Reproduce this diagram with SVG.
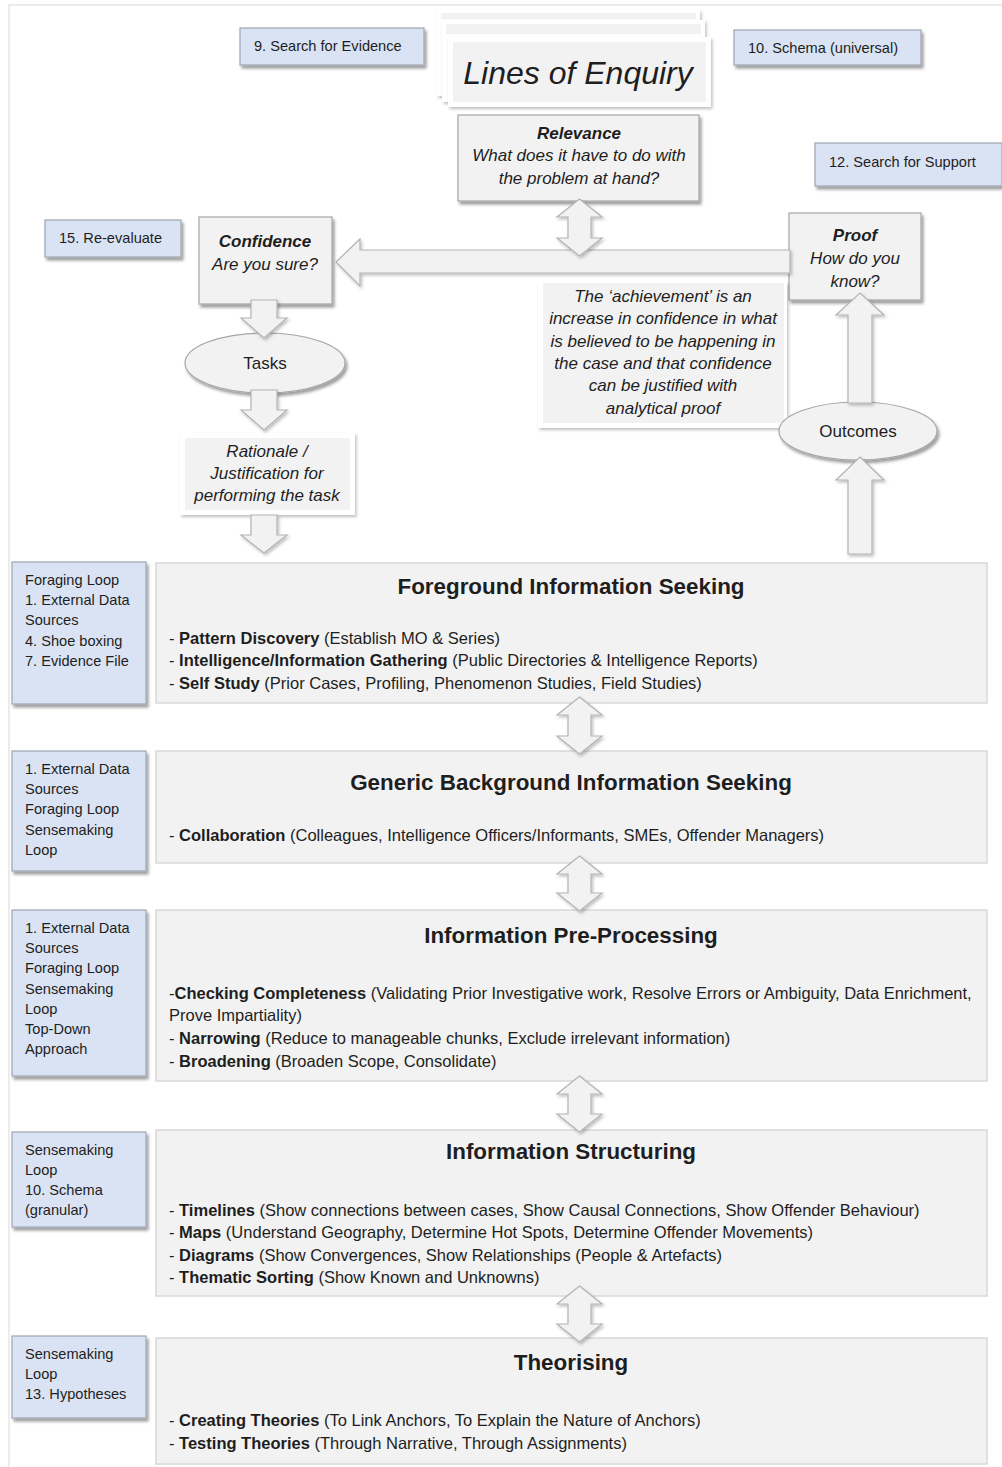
<svg xmlns="http://www.w3.org/2000/svg" width="1002" height="1467" viewBox="0 0 1002 1467">
  <defs>
    <filter id="shadow" x="-10%" y="-10%" width="125%" height="140%">
      <feDropShadow dx="2" dy="3" stdDeviation="1.8" flood-color="#000" flood-opacity="0.38"/>
    </filter>
    <filter id="softShadow" x="-10%" y="-10%" width="130%" height="130%">
      <feDropShadow dx="1.5" dy="2" stdDeviation="1.5" flood-color="#000" flood-opacity="0.25"/>
    </filter>
  </defs>
  <style>
    text { font-family: "Liberation Sans", Arial, sans-serif; fill: #1e1e1e; }
    .tag { fill: #dae3f3; stroke: #9ea6b2; stroke-width: 1.2; filter: url(#shadow); }
    .tagText { font-size: 14.6px; }
    .card { fill: #f2f2f2; stroke: #a6a6a6; stroke-width: 1.2; filter: url(#shadow); }
    .sheet { fill: #ffffff; filter: url(#softShadow); }
    .sheetInner { fill: #f2f2f2; }
    .section { fill: #f2f2f2; stroke: #d9d9d9; stroke-width: 1.5; }
    .title { font-size: 22.4px; font-weight: bold; text-anchor: middle; }
    .item { font-size: 16.5px; }
    .b { font-weight: bold; }
    .q { font-size: 17px; font-style: italic; text-anchor: middle; }
    .qb { font-weight: bold; }
    .oval { fill: #f2f2f2; stroke: #a6a6a6; stroke-width: 1.2; filter: url(#shadow); }
    .ovalText { font-size: 17px; text-anchor: middle; }
    .arrow { fill: #f2f2f2; stroke: #b3b3b3; stroke-width: 1.2; filter: url(#softShadow); }
  </style>

  <!-- page frame -->
  <rect x="9" y="5" width="1000" height="1470" fill="#ffffff" stroke="#ececec" stroke-width="2"/>

  <!-- tag boxes -->
  <g id="tag-search-evidence">
    <rect class="tag" x="240" y="28" width="184" height="37"/>
    <text class="tagText" x="254" y="51">9. Search for Evidence</text>
  </g>
  <g id="tag-schema-universal">
    <rect class="tag" x="734" y="30" width="187" height="35"/>
    <text class="tagText" x="748" y="53">10. Schema (universal)</text>
  </g>
  <g id="tag-search-support">
    <rect class="tag" x="815" y="143" width="187" height="43"/>
    <text class="tagText" x="829" y="167">12. Search for Support</text>
  </g>
  <g id="tag-reevaluate">
    <rect class="tag" x="45" y="220" width="136" height="37"/>
    <text class="tagText" x="59" y="243">15. Re-evaluate</text>
  </g>

  <!-- stacked sheets heading -->
  <g id="lines-of-enquiry">
    <rect class="sheet" x="437" y="10" width="263" height="86"/>
    <rect class="sheetInner" x="441" y="13" width="255" height="6"/>
    <rect class="sheet" x="442" y="20" width="263" height="82"/>
    <rect class="sheetInner" x="446" y="24" width="255" height="10"/>
    <rect class="sheet" x="448" y="37" width="263" height="70"/>
    <rect class="sheetInner" x="453" y="42" width="253" height="60"/>
    <text x="578" y="84" font-size="32" font-style="italic" text-anchor="middle">Lines of Enquiry</text>
  </g>

  <g id="relevance">
    <rect class="card" x="458" y="115" width="241" height="86"/>
    <text class="q" x="579" y="139"><tspan class="qb">Relevance</tspan></text>
    <text class="q" x="579" y="161">What does it have to do with</text>
    <text class="q" x="579" y="184">the problem at hand?</text>
  </g>

  <g id="confidence">
    <rect class="card" x="199" y="217" width="133" height="87"/>
    <text class="q" x="265" y="247"><tspan class="qb">Confidence</tspan></text>
    <text class="q" x="265" y="270">Are you sure?</text>
  </g>

  <g id="proof">
    <rect class="card" x="789" y="213" width="132" height="87"/>
    <text class="q" x="855" y="241"><tspan class="qb">Proof</tspan></text>
    <text class="q" x="855" y="264">How do you</text>
    <text class="q" x="855" y="287">know?</text>
  </g>

  <g id="achievement-note">
    <rect class="sheet" x="538" y="282" width="249" height="146"/>
    <rect class="sheetInner" x="543" y="283" width="241" height="140"/>
    <text class="q" x="663" y="302">The ‘achievement’ is an</text>
    <text class="q" x="663" y="324">increase in confidence in what</text>
    <text class="q" x="663" y="347">is believed to be happening in</text>
    <text class="q" x="663" y="369">the case and that confidence</text>
    <text class="q" x="663" y="391">can be justified with</text>
    <text class="q" x="663" y="414">analytical proof</text>
  </g>

  <g id="tasks">
    <ellipse class="oval" cx="265" cy="363" rx="80" ry="30"/>
    <text class="ovalText" x="265" y="369">Tasks</text>
  </g>

  <g id="outcomes">
    <ellipse class="oval" cx="858" cy="431" rx="79" ry="29"/>
    <text class="ovalText" x="858" y="437">Outcomes</text>
  </g>

  <g id="rationale">
    <rect class="sheet" x="180" y="433" width="175" height="82"/>
    <rect class="sheetInner" x="185" y="438" width="165" height="72"/>
    <text class="q" x="267" y="457">Rationale /</text>
    <text class="q" x="267" y="479">Justification for</text>
    <text class="q" x="267" y="501">performing the task</text>
  </g>

  <!-- process stages -->
  <g id="foreground">
    <rect class="section" x="156" y="563" width="831" height="140"/>
    <text class="title" x="571" y="594">Foreground Information Seeking</text>
    <text class="item" x="169" y="644">- <tspan class="b">Pattern Discovery</tspan> (Establish MO &amp; Series)</text>
    <text class="item" x="169" y="666">- <tspan class="b">Intelligence/Information Gathering</tspan> (Public Directories &amp; Intelligence Reports)</text>
    <text class="item" x="169" y="689">- <tspan class="b">Self Study</tspan> (Prior Cases, Profiling, Phenomenon Studies, Field Studies)</text>
  </g>
  <g id="foreground-tag">
    <rect class="tag" x="12" y="562" width="134" height="142"/>
    <text class="tagText" x="25" y="585">Foraging Loop</text>
    <text class="tagText" x="25" y="605">1. External Data</text>
    <text class="tagText" x="25" y="625">Sources</text>
    <text class="tagText" x="25" y="646">4. Shoe boxing</text>
    <text class="tagText" x="25" y="666">7. Evidence File</text>
  </g>

  <g id="background">
    <rect class="section" x="156" y="751" width="831" height="112"/>
    <text class="title" x="571" y="790">Generic Background Information Seeking</text>
    <text class="item" x="169" y="841">- <tspan class="b">Collaboration</tspan> (Colleagues, Intelligence Officers/Informants, SMEs, Offender Managers)</text>
  </g>
  <g id="background-tag">
    <rect class="tag" x="12" y="751" width="134" height="120"/>
    <text class="tagText" x="25" y="774">1. External Data</text>
    <text class="tagText" x="25" y="794">Sources</text>
    <text class="tagText" x="25" y="814">Foraging Loop</text>
    <text class="tagText" x="25" y="835">Sensemaking</text>
    <text class="tagText" x="25" y="855">Loop</text>
  </g>

  <g id="preprocessing">
    <rect class="section" x="156" y="910" width="831" height="171"/>
    <text class="title" x="571" y="943">Information Pre-Processing</text>
    <text class="item" x="169" y="999">-<tspan class="b">Checking Completeness</tspan> (Validating Prior Investigative work, Resolve Errors or Ambiguity, Data Enrichment,</text>
    <text class="item" x="169" y="1021">Prove Impartiality)</text>
    <text class="item" x="169" y="1044">- <tspan class="b">Narrowing</tspan> (Reduce to manageable chunks, Exclude irrelevant information)</text>
    <text class="item" x="169" y="1067">- <tspan class="b">Broadening</tspan> (Broaden Scope, Consolidate)</text>
  </g>
  <g id="preprocessing-tag">
    <rect class="tag" x="12" y="910" width="134" height="166"/>
    <text class="tagText" x="25" y="933">1. External Data</text>
    <text class="tagText" x="25" y="953">Sources</text>
    <text class="tagText" x="25" y="973">Foraging Loop</text>
    <text class="tagText" x="25" y="994">Sensemaking</text>
    <text class="tagText" x="25" y="1014">Loop</text>
    <text class="tagText" x="25" y="1034">Top-Down</text>
    <text class="tagText" x="25" y="1054">Approach</text>
  </g>

  <g id="structuring">
    <rect class="section" x="156" y="1130" width="831" height="166"/>
    <text class="title" x="571" y="1159">Information Structuring</text>
    <text class="item" x="169" y="1216">- <tspan class="b">Timelines</tspan> (Show connections between cases, Show Causal Connections, Show Offender Behaviour)</text>
    <text class="item" x="169" y="1238">- <tspan class="b">Maps</tspan> (Understand Geography, Determine Hot Spots, Determine Offender Movements)</text>
    <text class="item" x="169" y="1261">- <tspan class="b">Diagrams</tspan>  (Show Convergences, Show Relationships (People &amp; Artefacts)</text>
    <text class="item" x="169" y="1283">- <tspan class="b">Thematic Sorting</tspan> (Show Known and Unknowns)</text>
  </g>
  <g id="structuring-tag">
    <rect class="tag" x="12" y="1132" width="134" height="95"/>
    <text class="tagText" x="25" y="1155">Sensemaking</text>
    <text class="tagText" x="25" y="1175">Loop</text>
    <text class="tagText" x="25" y="1195">10. Schema</text>
    <text class="tagText" x="25" y="1215">(granular)</text>
  </g>

  <g id="theorising">
    <rect class="section" x="156" y="1338" width="831" height="126"/>
    <text class="title" x="571" y="1370">Theorising</text>
    <text class="item" x="169" y="1426">- <tspan class="b">Creating Theories</tspan> (To Link Anchors, To Explain the Nature of Anchors)</text>
    <text class="item" x="169" y="1449">- <tspan class="b">Testing Theories</tspan> (Through Narrative, Through Assignments)</text>
  </g>
  <g id="theorising-tag">
    <rect class="tag" x="12" y="1336" width="134" height="82"/>
    <text class="tagText" x="25" y="1359">Sensemaking</text>
    <text class="tagText" x="25" y="1379">Loop</text>
    <text class="tagText" x="25" y="1399">13. Hypotheses</text>
  </g>

  <!-- block arrows -->
  <g id="connectors">
    <!-- Confidence -> Tasks -> Rationale -> Foreground -->
    <polygon class="arrow" points="251,300 277,300 277,318 287,318 264,338 241,318 251,318"/>
    <polygon class="arrow" points="251,390 277,390 277,410 287,410 264,430 241,410 251,410"/>
    <polygon class="arrow" points="251,515 277,515 277,535 287,535 264,553 241,535 251,535"/>
    <!-- Foreground -> Outcomes -> Proof -->
    <polygon class="arrow" points="848,554 872,554 872,480 884,480 860,457 836,480 848,480"/>
    <polygon class="arrow" points="848,403 872,403 872,315 884,315 860,293 836,315 848,315"/>
    <!-- Proof -> Confidence -->
    <polygon class="arrow" points="790,250 790,273 360,273 360,286 336,262 360,239 360,250"/>
    <!-- Relevance <-> main loop -->
    <path class="arrow" d="M579.5,199 L602,217 L591,217 L591,238 L602,238 L579.5,256 L557,238 L568,238 L568,217 L557,217 Z"/>
    <!-- between stages -->
    <path class="arrow" d="M579.5,697 L602,715 L591,715 L591,736 L602,736 L579.5,754 L557,736 L568,736 L568,715 L557,715 Z"/>
    <path class="arrow" d="M579.5,856 L602,874 L591,874 L591,893 L602,893 L579.5,911 L557,893 L568,893 L568,874 L557,874 Z"/>
    <path class="arrow" d="M579.5,1076 L602,1094 L591,1094 L591,1114 L602,1114 L579.5,1132 L557,1114 L568,1114 L568,1094 L557,1094 Z"/>
    <path class="arrow" d="M579.5,1286 L602,1304 L591,1304 L591,1324 L602,1324 L579.5,1342 L557,1324 L568,1324 L568,1304 L557,1304 Z"/>
  </g>
</svg>
